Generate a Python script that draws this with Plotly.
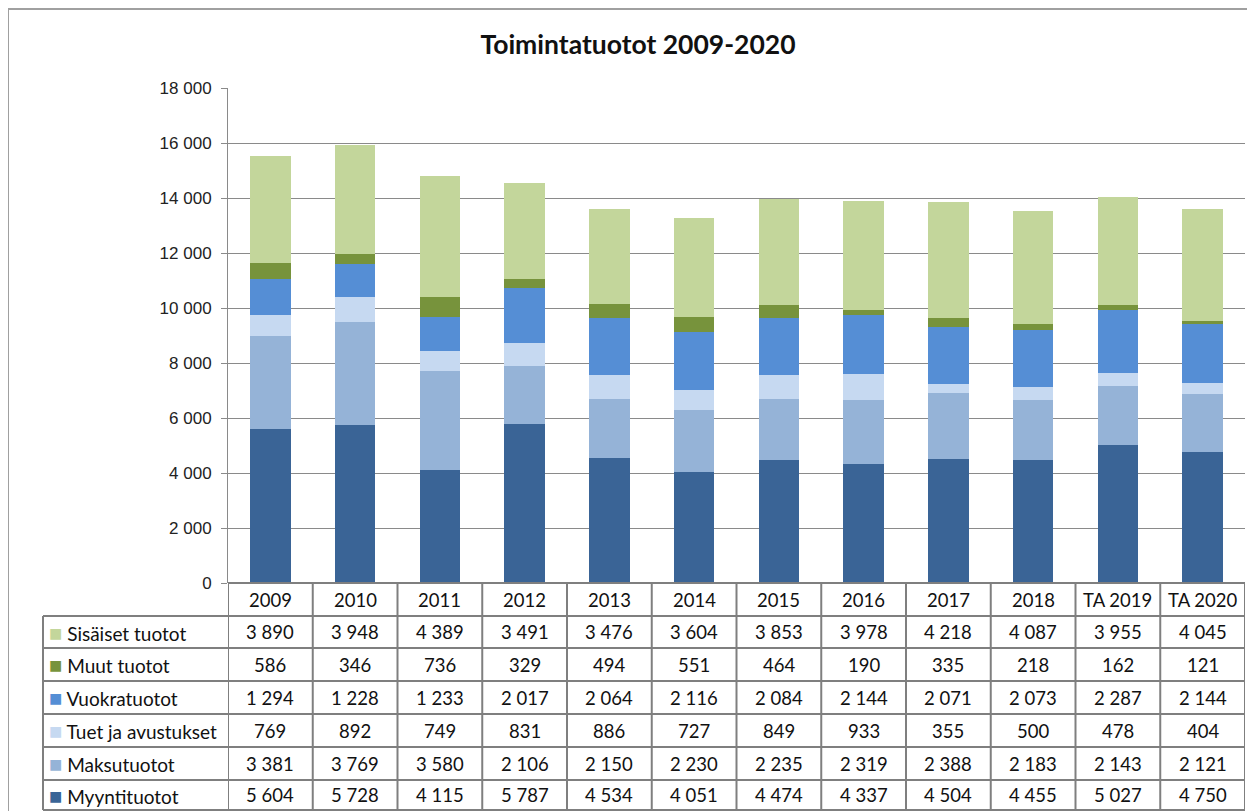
import plotly.graph_objects as go

categories = ["2009", "2010", "2011", "2012", "2013", "2014", "2015", "2016", "2017", "2018", "TA 2019", "TA 2020"]

myyntituotot = [5604, 5728, 4115, 5787, 4534, 4051, 4474, 4337, 4504, 4455, 5027, 4750]
maksutuotot = [3381, 3769, 3580, 2106, 2150, 2230, 2235, 2319, 2388, 2183, 2143, 2121]
tuet_ja_avustukset = [769, 892, 749, 831, 886, 727, 849, 933, 355, 500, 478, 404]
vuokratuotot = [1294, 1228, 1233, 2017, 2064, 2116, 2084, 2144, 2071, 2073, 2287, 2144]
muut_tuotot = [586, 346, 736, 329, 494, 551, 464, 190, 335, 218, 162, 121]
sisaiset_tuotot = [3890, 3948, 4389, 3491, 3476, 3604, 3853, 3978, 4218, 4087, 3955, 4045]

# stacking order bottom -> top
series = [
    ("Myyntituotot", myyntituotot, "#3A6496"),
    ("Maksutuotot", maksutuotot, "#95B3D7"),
    ("Tuet ja avustukset", tuet_ja_avustukset, "#C6D9F1"),
    ("Vuokratuotot", vuokratuotot, "#558ED5"),
    ("Muut tuotot", muut_tuotot, "#77933C"),
    ("Sisäiset tuotot", sisaiset_tuotot, "#C3D69B"),
]

OFF = 8  # page body margin
W, H = 1255 - OFF, 811 - OFF
L, R, T, B = 228 - OFF, 10, 88 - OFF, 811 - 583
plot_h = H - T - B
plot_w = W - L - R

def py(px):  # reference pixel y -> paper y
    return (H - B - (px - OFF)) / plot_h

def px_(x):  # reference pixel x -> paper x
    return ((x - OFF) - L) / plot_w

fig = go.Figure()
for name, vals, col in series:
    fig.add_trace(go.Bar(x=categories, y=vals, name=name, marker_color=col,
                         marker_line_width=0, width=0.48, showlegend=False))

shapes = []
annotations = []
grid_col = "#7F7F7F"
row_edges = [583, 616, 648, 681, 714, 747, 780, 810]
label_left = px_(43)

for i, e in enumerate(row_edges):
    x0 = 0 if i == 0 else label_left
    shapes.append(dict(type="line", xref="paper", yref="paper", x0=x0, x1=1,
                       y0=py(e), y1=py(e), line=dict(color=grid_col, width=2)))
for k in range(len(categories) + 1):
    shapes.append(dict(type="line", xref="x", yref="paper", x0=k - 0.5, x1=k - 0.5,
                       y0=py(row_edges[0]), y1=py(row_edges[-1]),
                       line=dict(color=grid_col, width=2)))
shapes.append(dict(type="line", xref="paper", yref="paper", x0=label_left, x1=label_left,
                   y0=py(row_edges[1]), y1=py(row_edges[-1]),
                   line=dict(color=grid_col, width=2)))
# outer frame
shapes.append(dict(type="rect", xref="paper", yref="paper", x0=px_(OFF), x1=px_(1280),
                   y0=py(840), y1=py(OFF + 1), line=dict(color="#A0A0A0", width=2),
                   fillcolor="rgba(0,0,0,0)", layer="below"))

font_tbl = "Lato, 'Open Sans', sans-serif"
hy = py((row_edges[0] + row_edges[1]) / 2)
for k, c in enumerate(categories):
    annotations.append(dict(x=k, xref="x", y=hy, yref="paper", yanchor="middle",
                            xanchor="center", text=c, showarrow=False,
                            font=dict(size=18.5, color="#111", family=font_tbl)))

def fmt(v):
    return f"{v:,}".replace(",", " ")

table_rows = list(reversed(series))
for r, (name, vals, col) in enumerate(table_rows):
    cy = py((row_edges[r + 1] + row_edges[r + 2]) / 2)
    annotations.append(dict(x=label_left, xref="paper", y=cy, yref="paper", xanchor="left",
                            yanchor="middle",
                            text=f"<span style='color:{col};font-size:22px'>■</span> {name}",
                            showarrow=False, xshift=4,
                            font=dict(size=19, color="#111", family=font_tbl)))
    for k, v in enumerate(vals):
        annotations.append(dict(x=k, xref="x", y=cy, yref="paper", yanchor="middle",
                                xanchor="center", text=fmt(v), showarrow=False,
                                font=dict(size=18.5, color="#111", family=font_tbl)))

fig.update_layout(
    width=W, height=H,
    margin=dict(l=L, r=R, t=T, b=B),
    barmode="stack",
    plot_bgcolor="white", paper_bgcolor="white",
    separators=", ",
    title=dict(text="<b>Toimintatuotot 2009-2020</b>", x=(638 - OFF) / W, xanchor="center",
               y=1 - (45 - OFF) / H, yanchor="middle",
               font=dict(size=26.5, color="#111", family=font_tbl)),
    xaxis=dict(type="category", range=[-0.5, len(categories) - 0.5], showticklabels=False,
               ticks="", showgrid=False, showline=False, zeroline=False),
    yaxis=dict(range=[0, 18000], dtick=2000, tickformat=",d", showgrid=True,
               gridcolor="#8A8A8A", gridwidth=1, showline=True, linecolor="#8A8A8A",
               linewidth=1, ticks="outside", ticklen=6, tickcolor="#8A8A8A",
               zeroline=False, ticklabelstandoff=6,
               tickfont=dict(size=17, color="#222", family="'Liberation Sans Narrow', Arial"),
               ),
    shapes=shapes,
    annotations=annotations,
)

fig.write_html("out.html")
